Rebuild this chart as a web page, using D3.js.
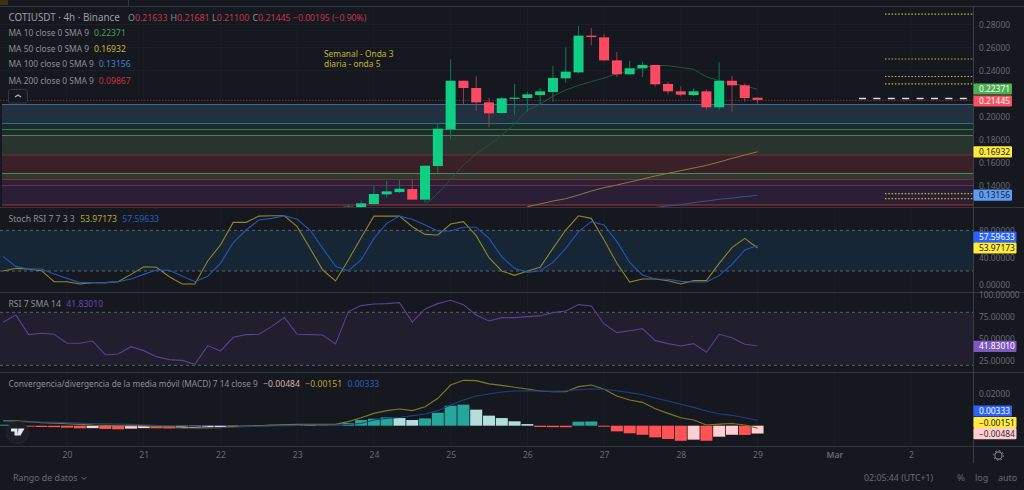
<!DOCTYPE html>
<html><head><meta charset="utf-8">
<script src="https://cdn.jsdelivr.net/npm/d3@7/dist/d3.min.js"></script>
<style>
html,body{margin:0;padding:0;background:#15191f;overflow:hidden}
svg{display:block}
text{font-family:"Noto Sans",sans-serif}
</style></head><body><svg id="c" width="1024" height="490"></svg>
<script>
// ---------- data ----------
const candleOpen =[.1190,.1187,.1239,.1323,.1343,.1369,.1277,.1569,.1888,.2311,.2248,.2123,.2030,.2155,.2161,.2187,.2213,.2332,.2384,.2703,.2688,.2488,.2367,.2419,.2448,.2283,.2219,.2187,.2219,.2080,.2311,.2271,.21633];
const candleHigh =[.1233,.1268,.1398,.1439,.1448,.1448,.1572,.1935,.2497,.2311,.2349,.2161,.2167,.2283,.2216,.2248,.2442,.2601,.2787,.2769,.2717,.2561,.2483,.2477,.2448,.2303,.2262,.2245,.2236,.2471,.2352,.2288,.21681];
const candleLow  =[.1180,.1180,.1230,.1294,.1332,.1277,.1251,.1511,.1801,.2106,.2051,.1906,.2027,.2016,.2042,.2100,.2129,.2294,.2375,.2619,.2485,.2343,.2367,.2343,.2262,.2193,.2175,.2178,.2057,.2057,.2042,.2129,.21100];
const candleClose=[.1216,.1245,.1326,.1349,.1372,.1277,.1572,.1894,.2311,.2248,.2123,.2027,.2158,.2164,.2193,.2219,.2335,.2390,.2703,.2691,.2488,.2367,.2419,.2448,.2280,.2219,.2190,.2219,.2080,.2311,.2271,.2161,.21445];
const ma10=[.1230,.1332,.1454,.1578,.1674,.1752,.1839,.1935,.2056,.2106,.2178,.2230,.2271,.2303,.2335,.2370,.2399,.2427,.2442,.2442,.2427,.2410,.2346,.2311,.2288,.2265,.22371];
const ma50=[.1216,.1239,.1265,.1285,.1317,.1352,.1381,.1404,.1430,.1456,.1483,.1506,.1529,.1552,.1575,.1604,.1636,.1665,.16932];
const ma100=[.1210,.1222,.1233,.1251,.1265,.1280,.1291,.1303,.13156];
const zoneLevels=[.2104,.1939,.1887,.1835,.1665,.1504,.1452,.1400,.1230];
const fibLevels=[.2891,.2500,.2348,.2283,.1330,.1286];
const priceTicks=[.28,.26,.24,.20,.18,.16,.14];
const stochK=[20.1,24.0,23.0,20.5,4.3,4.3,0.9,2.9,2.9,4.3,15.1,26.4,25.5,11.7,0.9,0.9,34.8,58.4,91.8,91.8,101,101.5,101.5,85.4,53.5,21.5,5.3,36.3,69.2,101,101,101,85.4,74.1,73.2,89.4,92.8,72.2,39.7,20.1,13.7,20.1,25.5,53.5,80.5,101.5,97.7,65.8,31.4,3.8,8.3,8.3,5.8,0.9,5.8,5.8,31.4,54.5,68.2,53.97];
const stochD=[41.2,26.9,23,23,15.6,9.2,2.9,2.9,2.9,4.3,8.3,15.1,21.5,21,12.7,4.3,12.2,31.4,61.8,80.5,95.3,97.7,101.5,96.3,80.5,53.5,26.9,20.5,36.3,68.2,90.4,101,96.3,87.9,79.1,79.1,84.5,84.5,68.2,41.2,24,18.1,20.5,32.8,53.5,78.1,92.8,87.9,63.3,32.8,14.2,8.3,7.8,4.8,3.8,3.8,13.2,29.9,51,57.6];
const stochTicks=[80,40,0];
const rsiValues=[68.7,77,54.7,56.2,55.1,44.9,44.9,47.5,32,32.8,41.1,36.6,29.8,26.4,25.6,21.1,42.3,36.2,51.7,54.7,55.1,63.8,74,55.1,54.7,54.3,44.1,80.8,87.6,89.4,89.8,91,69,83.8,89.8,93.6,88.7,77,70.2,74,74,75.1,75.9,79.6,81.5,88.7,87.2,66.8,57,59.2,61.5,47.9,44.5,41.9,44.5,34.7,55.1,51.3,43.8,41.83];
const rsiTicks=[100,75,50,25];
const macdLine=[.0031,.0031,.0025,.0019,.0016,.0012,.0008,.0004,.0002,0,0,-.0002,-.0006,-.0008,-.0012,-.0014,-.0014,-.0012,-.0006,-.0002,0,.0004,.0006,.0008,.0008,.0008,.0008,.0025,.0049,.0076,.0093,.0103,.0093,.0117,.0169,.0251,.0280,.0278,.0258,.0249,.0237,.0227,.0214,.0210,.0210,.0241,.0251,.0225,.0183,.0159,.0144,.0105,.0076,.0049,.0035,.0004,.0010,.0014,.0004,-.00151];
const signalLine=[.0025,.0025,.0023,.0023,.0021,.0019,.0016,.0014,.0012,.0010,.0008,.0006,.0002,0,-.0002,-.0006,-.0010,-.0012,-.0010,-.0006,-.0004,-.0002,0,.0002,.0004,.0004,.0004,.0008,.0014,.0035,.0045,.0051,.0062,.0072,.0093,.0128,.0159,.0183,.0196,.0208,.0214,.0216,.0214,.0212,.0216,.0222,.0227,.0225,.0216,.0204,.0191,.0171,.0152,.0132,.0113,.0091,.0074,.0064,.0049,.00333];
const macdHist=[.0006,.0001,-.0006,-.0008,-.0009,-.0012,-.0016,-.0015,-.0020,-.0022,-.0018,-.0015,-.0016,-.0017,-.0015,-.0014,-.0013,-.0012,-.0004,.0002,.0004,.0005,.0006,.0005,.0004,.0002,.0001,.0016,.0035,.0043,.0051,.0047,.0035,.0045,.0080,.0123,.0130,.0099,.0062,.0047,.0027,.0010,-.0008,-.0009,-.00095,.0025,.0026,-.0006,-.0035,-.0047,-.0056,-.0072,-.0082,-.0093,-.0086,-.0093,-.0068,-.0056,-.0057,-.00484];
const macdTicks=[.02];
const dayTicks=[20,21,22,23,24,25,26,27,28,29,30,31];
const dayLabels=["20","21","22","23","24","25","26","27","28","29","Mar","2"];
const legendRows=[["MA 10 close 0 SMA 9","0.22371","#43a047"],["MA 50 close 0 SMA 9","0.16932","#c8b628"],["MA 100 close 0 SMA 9","0.13156","#3f7fd0"],["MA 200 close 0 SMA 9","0.09867","#c62f3f"]];
const priceTags=[["0.22371",.22371,"#4caf50","#fff"],["0.21445",.21445,"#f7525f","#fff"],["0.16932",.16932,"#ffeb3b","#222"],["0.13156",.13156,"#5b9cf6","#222"]];

// ---------- scales ----------
const W=973;
const x=d3.scaleLinear().domain([20,31]).range([67,911]);
const yP=d3.scaleLinear().domain([.14,.28]).range([185.5,24.5]);
const yS=d3.scaleLinear().domain([0,100]).range([284.6,216.8]);
const yR=d3.scaleLinear().domain([20,80]).range([365.3,312.3]);
const yM=d3.scaleLinear().domain([0,.02]).range([425.7,393.3]);
const candleStart=29-32/6, ma10Start=29-26/6, ma50Start=29-18/6, ma100Start=29-8/6, oscStart=29-59/6;

const svg=d3.select("#c");
svg.append("rect").attr("width",1024).attr("height",490).attr("fill","#15191f");
const defs=svg.append("defs");
defs.append("clipPath").attr("id","main").append("rect").attr("x",0).attr("y",7).attr("width",W).attr("height",200);
const AX="#666a73", SEP="#32363e", GRID="#1b1f26";

// top strip
svg.append("rect").attr("x",0).attr("y",0).attr("width",8).attr("height",5).attr("fill","#3a3212");
svg.append("line").attr("x1",128.5).attr("x2",128.5).attr("y1",0).attr("y2",6).attr("stroke",SEP);

// grid
const grid=svg.append("g");
grid.selectAll("line.v").data(dayTicks).join("line").attr("x1",d=>x(d)).attr("x2",d=>x(d)).attr("y1",7).attr("y2",446).attr("stroke",GRID);
grid.selectAll("line.h").data(priceTicks).join("line").attr("x1",0).attr("x2",W).attr("y1",d=>yP(d)).attr("y2",d=>yP(d)).attr("stroke",GRID);

// zones
const zoneFill=["#213140","#1b2a2c","#1e2c29","#28352e","#392127","#2b3a30","#33202e","#2b1f38"];
const zoneLine=["#3f6c96","#1c7a72","#387a58","#5a7a60","#7d2f38","#5c8060","#7e2f48","#5e2f70","#80282f"];
const zones=svg.append("g");
zones.selectAll("rect").data(d3.pairs(zoneLevels)).join("rect")
 .attr("x",2).attr("width",W-2).attr("y",d=>yP(d[0])).attr("height",d=>yP(d[1])-yP(d[0])).attr("fill",(d,i)=>zoneFill[i]);
zones.selectAll("line").data(zoneLevels).join("line")
 .attr("x1",2).attr("x2",W).attr("y1",d=>yP(d)).attr("y2",d=>yP(d)).attr("stroke",(d,i)=>zoneLine[i]).attr("stroke-width",(d,i)=>i==8?1.6:1);

const mainG=svg.append("g").attr("clip-path","url(#main)");
// current price line
mainG.append("line").attr("x1",0).attr("x2",W).attr("y1",yP(.21445)+.5).attr("y2",yP(.21445)+.5).attr("stroke","#7a2a35").attr("stroke-dasharray","1.5 1.5");
// fib dotted
svg.append("g").selectAll("line").data(fibLevels).join("line")
 .attr("x1",885).attr("x2",W).attr("y1",d=>yP(d)).attr("y2",d=>yP(d)).attr("stroke","#c9b82c").attr("stroke-width",1.2).attr("stroke-dasharray","1.5 1.8");
// white dashed
svg.append("line").attr("x1",859).attr("x2",969).attr("y1",98.5).attr("y2",98.5).attr("stroke","#d8d8d8").attr("stroke-width",1.5).attr("stroke-dasharray","7 7.4");

// MA lines
const maLine=(start)=>d3.line().x((d,i)=>x(start+i/6)).y(d=>yP(d));
mainG.append("path").attr("d",maLine(ma10Start)(ma10)).attr("fill","none").attr("stroke","#2a5236").attr("stroke-width",1);
mainG.append("path").attr("d",maLine(ma50Start)(ma50)).attr("fill","none").attr("stroke","#8c7a3a").attr("stroke-width",1);
mainG.append("path").attr("d",maLine(ma100Start)(ma100)).attr("fill","none").attr("stroke","#37508a").attr("stroke-width",1);

// candles
const UP="#0fcf85", DN="#fb4a62";
const candles=d3.range(candleOpen.length).map(i=>({t:candleStart+i/6,o:candleOpen[i],h:candleHigh[i],l:candleLow[i],c:candleClose[i]}));
const cg=mainG.selectAll("g.c").data(candles).join("g");
cg.append("line").attr("x1",d=>x(d.t)).attr("x2",d=>x(d.t)).attr("y1",d=>yP(d.h)).attr("y2",d=>yP(d.l))
 .attr("stroke",d=>d.c>=d.o?"#0d7a55":"#a13a4b").attr("stroke-width",1);
cg.append("rect").attr("x",d=>x(d.t)-5).attr("width",10).attr("y",d=>yP(Math.max(d.o,d.c)))
 .attr("height",d=>Math.max(1.2,Math.abs(yP(d.o)-yP(d.c)))).attr("fill",d=>d.c>=d.o?UP:DN);

// annotation
svg.append("text").attr("x",324).attr("y",56.5).attr("font-size",8.4).attr("fill","#c2b22e").text("Semanal - Onda 3");
svg.append("text").attr("x",324).attr("y",67).attr("font-size",8.4).attr("fill","#c2b22e").text("diaria - onda 5");

// pane separators
[207.5,292.5,372.5,446.5,6.5].forEach(y=>svg.append("line").attr("x1",0).attr("x2",1024).attr("y1",y).attr("y2",y).attr("stroke",SEP).attr("stroke-width",y==6.5?1:1.2));
svg.append("line").attr("x1",973.5).attr("x2",973.5).attr("y1",6).attr("y2",463).attr("stroke","#3a3e46");

// stoch pane
const band=(y1,y2,fill)=>{
 svg.append("rect").attr("x",0).attr("width",W).attr("y",y1).attr("height",y2-y1).attr("fill",fill);
 [y1,y2].forEach(y=>svg.append("line").attr("x1",0).attr("x2",W).attr("y1",y).attr("y2",y).attr("stroke","#5d616a").attr("stroke-dasharray","3 3"));
};
band(yS(80),yS(20),"#172635");
const oscLine=(ys)=>d3.line().x((d,i)=>x(oscStart+i/6)).y(d=>ys(d));
svg.append("path").attr("d",oscLine(yS)(stochK)).attr("fill","none").attr("stroke","#8f862c").attr("stroke-width",1.1);
svg.append("path").attr("d",oscLine(yS)(stochD)).attr("fill","none").attr("stroke","#2257b4").attr("stroke-width",1.1);

// rsi pane
band(yR(80),yR(20),"#211f2e");
svg.append("path").attr("d",oscLine(yR)(rsiValues)).attr("fill","none").attr("stroke","#5a3f96").attr("stroke-width",1.1);

// macd pane
const histColor=(d,i)=>{const p=i?macdHist[i-1]:0; return d>=0?(d>p?"#26a69a":"#b2dfdb"):(d<p?"#ff5252":"#ffcdd2");};
svg.append("g").selectAll("rect").data(macdHist).join("rect")
 .attr("x",(d,i)=>x(oscStart+i/6)-6).attr("width",12)
 .attr("y",d=>d>=0?yM(d):yM(0)).attr("height",d=>Math.abs(yM(d)-yM(0)))
 .attr("fill",histColor);
svg.append("path").attr("d",oscLine(yM)(macdLine)).attr("fill","none").attr("stroke","#7f7a26").attr("stroke-width",1.1);
svg.append("path").attr("d",oscLine(yM)(signalLine)).attr("fill","none").attr("stroke","#1d3f88").attr("stroke-width",1.1);

// axes
const rightAxis=(scale,ticks,fmt)=>{
 const g=svg.append("g").attr("transform","translate(975,0)")
  .call(d3.axisRight(scale).tickValues(ticks).tickSize(0).tickPadding(4).tickFormat(fmt));
 g.select(".domain").remove();
 g.selectAll("text").attr("fill",AX).attr("font-size",8.4).attr("font-family",'"Noto Sans",sans-serif');
};
const f5=d3.format(".5f");
rightAxis(yP,priceTicks,f5);
rightAxis(yS,stochTicks,f5);
rightAxis(yR,rsiTicks,f5);
rightAxis(yM,macdTicks,f5);
const tx=svg.append("g").attr("transform","translate(0,449)")
 .call(d3.axisBottom(x).tickValues(dayTicks).tickSize(0).tickPadding(3).tickFormat((d,i)=>dayLabels[i]));
tx.select(".domain").remove();
tx.selectAll("text").attr("fill",AX).attr("font-size",8.6).attr("font-family",'"Noto Sans",sans-serif').attr("font-weight",(d,i)=>dayLabels[i]=="Mar"?600:400);

// tags
const tag=(y,label,bg,fg,w)=>{
 svg.append("rect").attr("x",973.5).attr("y",y-5.6).attr("width",w).attr("height",11.2).attr("rx",1).attr("fill",bg);
 svg.append("text").attr("x",979).attr("y",y+3).attr("font-size",8.4).attr("fill",fg).text(label);
};
priceTags.forEach(t=>tag(t[1]==.22371?89:t[1]==.21445?101:yP(t[1]),t[0],t[2],t[3],38.5));
tag(237,"57.59633","#2962ff","#fff",43);
tag(248,"53.97173","#ffeb3b","#222",43);
tag(346.3,"41.83010","#7e57c2","#fff",43);
tag(411,"0.00333","#2962ff","#fff",38.5);
tag(422.5,"−0.00151","#ffeb3b","#222",43);
tag(433.7,"−0.00484","#ffcdd2","#333",43);

// legend
const T="#8a8e96", RED="#c8324a";
const hdr=svg.append("text").attr("y",20.5).attr("font-size",9.85);
hdr.append("tspan").attr("x",8.5).attr("fill","#9a9ea6").text("COTIUSDT · 4h · Binance");
const ohlc=[["O","0.21633",128],["H","0.21681",170.5],["L","0.21100",212],["C","0.21445",252.5]];
ohlc.forEach(o=>{
 const t=svg.append("text").attr("x",o[2]).attr("y",20.5).attr("font-size",8.8);
 t.append("tspan").attr("fill",T).text(o[0]);
 t.append("tspan").attr("fill",RED).text(o[1]);
});
svg.append("text").attr("x",293).attr("y",20.5).attr("font-size",8.6).attr("fill",RED).text("−0.00195 (−0.90%)");
const rowY=[36,51.5,67,83.5];
legendRows.forEach((r,i)=>{
 const t=svg.append("text").attr("x",8.5).attr("y",rowY[i]);
 t.append("tspan").attr("font-size",8.4).attr("fill",T).text(r[0]);
 t.append("tspan").attr("font-size",8.6).attr("dx",5).attr("fill",r[2]).text(r[1]);
});
svg.append("rect").attr("x",8.5).attr("y",89.5).attr("width",19).attr("height",13.5).attr("rx",2).attr("fill","#15191f").attr("stroke","#34383f");
svg.append("path").attr("d","M15 97l3-2 3 2").attr("fill","none").attr("stroke","#b0b3b8").attr("stroke-width",1.2);

const lab=(yy,size,parts)=>{
 const t=svg.append("text").attr("x",8.5).attr("y",yy);
 parts.forEach((p,i)=>t.append("tspan").attr("font-size",i?8.6:size).attr("dx",i?5.4:0).attr("fill",p[1]).text(p[0]));
};
lab(221.5,8.6,[["Stoch RSI 7 7 3 3",T],["53.97173","#b8a92a"],["57.59633","#2a5cc0"]]);
lab(306.5,8.6,[["RSI 7 SMA 14",T],["41.83010","#6a48b0"]]);
lab(387,8.25,[["Convergencia/divergencia de la media móvil (MACD) 7 14 close 9",T],["−0.00484","#d8aeb2"],["−0.00151","#b8a92a"],["0.00333","#2a5cc0"]]);

// tv logo
svg.append("circle").attr("cx",17.5).attr("cy",432.5).attr("r",11).attr("fill","#1a1e26").attr("stroke","#23272f");
svg.append("path").attr("d","M11 428.5h6.5v7h-3v-4h-3.5zM18.5 428.5h6l-4 7h-3.2z").attr("fill","#e6e6e6");

// footer
svg.append("text").attr("x",13).attr("y",481).attr("font-size",8.8).attr("fill","#666a73").text("Rango de datos");
svg.append("path").attr("d","M81.5 477l2.5 2.5 2.5-2.5").attr("fill","none").attr("stroke","#666a73");
svg.append("text").attr("x",864).attr("y",481).attr("font-size",8.8).attr("fill","#666a73").text("02:05:44 (UTC+1)");
svg.append("text").attr("x",957).attr("y",481).attr("font-size",9.5).attr("fill","#666a73").text("%");
svg.append("text").attr("x",975).attr("y",481).attr("font-size",9).attr("fill","#666a73").text("log");
svg.append("text").attr("x",998).attr("y",481).attr("font-size",9).attr("fill","#666a73").text("auto");
svg.append("circle").attr("cx",998.5).attr("cy",455.5).attr("r",3.6).attr("fill","none").attr("stroke","#7d8188").attr("stroke-width",1.1);
svg.append("circle").attr("cx",998.5).attr("cy",455.5).attr("r",5).attr("fill","none").attr("stroke","#7d8188").attr("stroke-width",1).attr("stroke-dasharray","1.6 2.3");
</script></body></html>
